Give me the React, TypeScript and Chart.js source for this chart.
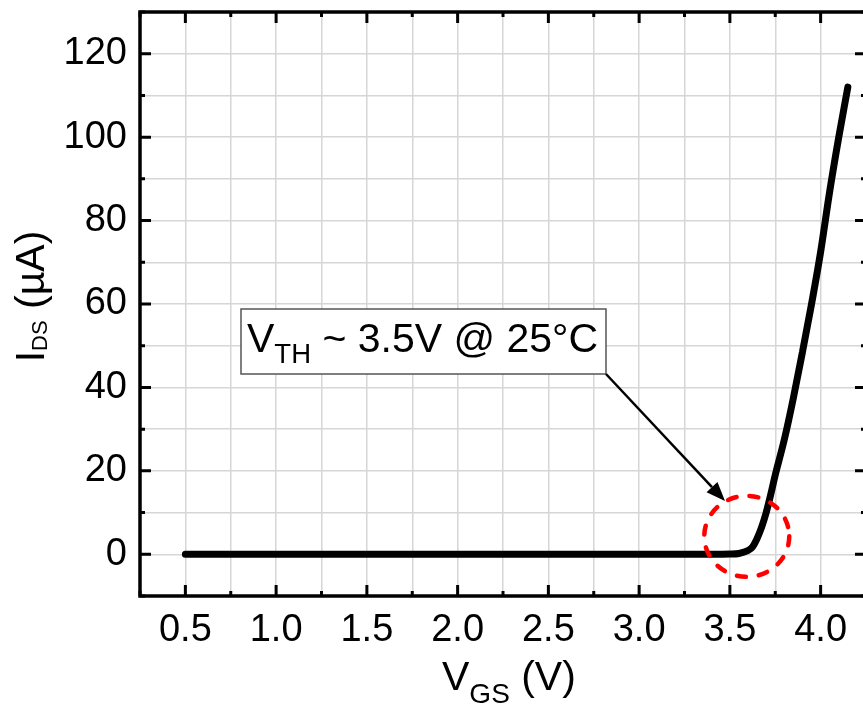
import React, { useEffect, useRef } from 'react';
import { Chart, registerables } from 'chart.js';

Chart.register(...registerables);

// Data (VGS in volts, IDS in µA)
const vgs = [0.5, 1.0, 1.5, 2.0, 2.5, 3.0, 3.4, 3.5, 3.55, 3.6, 3.625, 3.65, 3.675, 3.7, 3.725, 3.75, 3.8, 3.85, 3.9, 3.95, 4.0, 4.05, 4.1, 4.15];
const ids = [0, 0, 0, 0, 0, 0, 0, 0.05, 0.2, 0.9, 1.8, 3.8, 6.5, 10, 14.3, 19, 27.5, 37.5, 48.5, 60, 72.5, 87, 100, 112];

const xMin = 0.25;
const xMax = 4.25;
const xStep = 0.25;
const yMin = -10;
const yMax = 130;
const yStep = 10;

const xTitleMain = 'V';
const xTitleSub = 'GS';
const xTitleRest = ' (V)';
const yTitleMain = 'I';
const yTitleSub = 'DS';
const yTitleRest = ' (µA)';
const noteMain = 'V';
const noteSub = 'TH';
const noteRest = ' ~ 3.5V @ 25°C';
const circleCenter = { x: 3.593, y: 4.3 };

const FONT = '"Liberation Sans", Arial, sans-serif';

const isMajorX = (v: number) => Math.abs(v * 2 - Math.round(v * 2)) < 1e-6;
const isMajorY = (v: number) => Math.abs(v / 20 - Math.round(v / 20)) < 1e-6;

const zeroPad = (s: any) => {
  s.paddingTop = 0;
  s.paddingBottom = 0;
  s.paddingLeft = 0;
  s.paddingRight = 0;
};

export default function App() {
  const ref = useRef<HTMLCanvasElement>(null);

  useEffect(() => {
    document.body.style.margin = '0';
    const canvas = ref.current!;

    const decor = {
      id: 'decor',
      afterDraw(chart: any) {
        const { ctx, chartArea: a, scales } = chart;
        const x = scales.x;
        const y = scales.y;
        ctx.save();

        // inward tick marks
        ctx.strokeStyle = '#000';
        ctx.lineWidth = 3;
        ctx.lineCap = 'butt';
        ctx.beginPath();
        x.ticks.forEach((t: any) => {
          const px = x.getPixelForValue(t.value);
          const len = isMajorX(t.value) ? 11 : 5;
          ctx.moveTo(px, a.bottom);
          ctx.lineTo(px, a.bottom - len);
          ctx.moveTo(px, a.top);
          ctx.lineTo(px, a.top + len);
        });
        y.ticks.forEach((t: any) => {
          const py = y.getPixelForValue(t.value);
          const len = isMajorY(t.value) ? 11 : 5;
          ctx.moveTo(a.left, py);
          ctx.lineTo(a.left + len, py);
          ctx.moveTo(a.right, py);
          ctx.lineTo(a.right - len, py);
        });
        ctx.stroke();

        // frame
        ctx.lineWidth = 3.5;
        ctx.strokeRect(a.left, a.top, a.right - a.left, a.bottom - a.top);

        // x title
        ctx.fillStyle = '#000';
        ctx.textBaseline = 'alphabetic';
        ctx.textAlign = 'left';
        let cx = 442;
        ctx.font = `41px ${FONT}`;
        ctx.fillText(xTitleMain, cx, 690);
        cx += ctx.measureText(xTitleMain).width;
        ctx.font = `28px ${FONT}`;
        ctx.fillText(xTitleSub, cx, 703);
        cx += ctx.measureText(xTitleSub).width;
        ctx.font = `41px ${FONT}`;
        ctx.fillText(xTitleRest, cx, 690);

        // y title (rotated)
        ctx.save();
        ctx.translate(44, 296.5);
        ctx.rotate(-Math.PI / 2);
        ctx.font = `41px ${FONT}`;
        const w1 = ctx.measureText(yTitleMain).width;
        const w3 = ctx.measureText(yTitleRest).width;
        ctx.font = `22px ${FONT}`;
        const w2 = ctx.measureText(yTitleSub).width;
        let u = -(w1 + w2 + w3) / 2;
        ctx.font = `41px ${FONT}`;
        ctx.fillText(yTitleMain, u, 0);
        u += w1;
        ctx.font = `22px ${FONT}`;
        ctx.fillText(yTitleSub, u, 3);
        u += w2;
        ctx.font = `41px ${FONT}`;
        ctx.fillText(yTitleRest, u, 0);
        ctx.restore();

        // annotation box
        const bx = 241, by = 309, bw = 365, bh = 65;
        ctx.fillStyle = '#fff';
        ctx.fillRect(bx, by, bw, bh);
        ctx.strokeStyle = '#555';
        ctx.lineWidth = 1.5;
        ctx.strokeRect(bx, by, bw, bh);
        ctx.fillStyle = '#000';
        let nx = 247;
        ctx.font = `41px ${FONT}`;
        ctx.fillText(noteMain, nx, 352);
        nx += ctx.measureText(noteMain).width;
        ctx.font = `27.5px ${FONT}`;
        ctx.fillText(noteSub, nx, 363);
        nx += ctx.measureText(noteSub).width;
        ctx.font = `41px ${FONT}`;
        ctx.fillText(noteRest, nx, 352);

        // arrow
        const x0 = bx + bw, y0 = by + bh, x1 = 725, y1 = 501;
        const ang = Math.atan2(y1 - y0, x1 - x0);
        const hl = 19, hw = 7.5;
        const bxh = x1 - hl * Math.cos(ang), byh = y1 - hl * Math.sin(ang);
        ctx.strokeStyle = '#000';
        ctx.lineWidth = 2.5;
        ctx.beginPath();
        ctx.moveTo(x0, y0);
        ctx.lineTo(bxh, byh);
        ctx.stroke();
        ctx.beginPath();
        ctx.moveTo(x1, y1);
        ctx.lineTo(bxh + hw * Math.sin(ang), byh - hw * Math.cos(ang));
        ctx.lineTo(bxh - hw * Math.sin(ang), byh + hw * Math.cos(ang));
        ctx.closePath();
        ctx.fill();

        // red dashed circle
        const ccx = x.getPixelForValue(circleCenter.x);
        const ccy = y.getPixelForValue(circleCenter.y);
        ctx.strokeStyle = '#ff0000';
        ctx.lineWidth = 4.5;
        ctx.lineCap = 'round';
        ctx.setLineDash([9, 13]);
        ctx.beginPath();
        ctx.ellipse(ccx, ccy, 42.5, 40.5, 0, 0, Math.PI * 2);
        ctx.stroke();
        ctx.setLineDash([]);

        ctx.restore();
      },
    };

    const chart = new Chart(canvas, {
      type: 'line',
      data: {
        datasets: [
          {
            data: vgs.map((v, i) => ({ x: v, y: ids[i] })),
            borderColor: '#000',
            borderWidth: 7,
            borderCapStyle: 'round',
            borderJoinStyle: 'round',
            pointRadius: 0,
            fill: false,
            cubicInterpolationMode: 'monotone',
          } as any,
        ],
      },
      options: {
        responsive: false,
        animation: false,
        devicePixelRatio: 1,
        layout: { padding: { top: 12, right: 4, left: 0, bottom: 0 } },
        plugins: { legend: { display: false }, tooltip: { enabled: false } },
        scales: {
          x: {
            type: 'linear',
            min: xMin,
            max: xMax,
            afterFit: (s: any) => { s.height = 110; zeroPad(s); },
            grid: { color: '#d6d6d6', lineWidth: 1.5, drawTicks: false },
            border: { display: false },
            ticks: {
              stepSize: xStep,
              autoSkip: false,
              maxRotation: 0,
              padding: 12,
              color: '#000',
              font: { family: FONT, size: 38 },
              callback: (v: any) => (isMajorX(Number(v)) ? Number(v).toFixed(1) : ''),
            },
          },
          y: {
            type: 'linear',
            min: yMin,
            max: yMax,
            afterFit: (s: any) => { s.width = 140; zeroPad(s); },
            grid: { color: '#d6d6d6', lineWidth: 1.5, drawTicks: false },
            border: { display: false },
            ticks: {
              stepSize: yStep,
              autoSkip: false,
              padding: 13,
              color: '#000',
              font: { family: FONT, size: 38 },
              callback: (v: any) => {
                const n = Number(v);
                return isMajorY(n) && n >= 0 && n <= 120 ? String(n) : '';
              },
            },
          },
        },
      },
      plugins: [decor],
    });

    return () => chart.destroy();
  }, []);

  return (
    <div style={{ width: 863, height: 706, overflow: 'hidden', position: 'relative' }}>
      <canvas ref={ref} width={870} height={706} style={{ display: 'block', width: 870, height: 706 }} />
    </div>
  );
}
